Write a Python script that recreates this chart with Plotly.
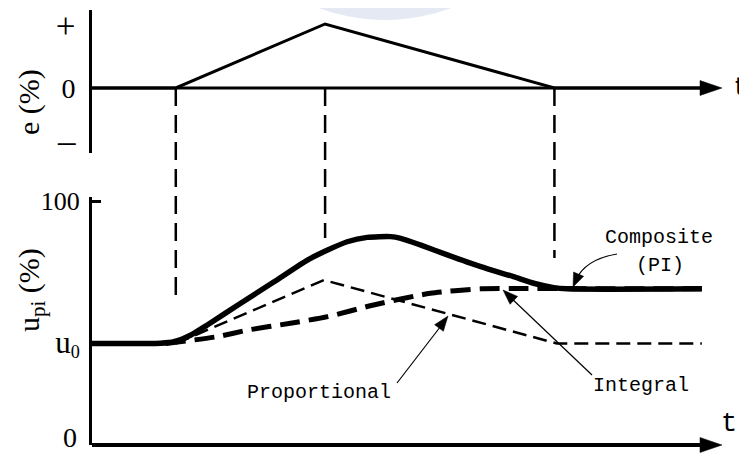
import math
import plotly.graph_objects as go

# ---------------- data ----------------
# error signal e(t)
t_e = [0.0, 1.33, 3.70, 7.34, 9.66]
e_val = [0.0, 0.0, 1.067, 0.0, 0.0]

# composite (PI) controller output
t_comp = [0.0, 0.78, 1.09, 1.30, 1.57, 1.83, 2.36, 2.89, 3.42, 3.74, 4.05, 4.37,
          4.74, 4.90, 5.21, 5.64, 6.17, 6.69, 7.01, 7.33, 7.54, 9.68]
u_comp = [41.6, 41.6, 41.7, 42.3, 45.1, 49.2, 58.1, 66.9, 75.8, 79.9, 83.3, 85.1,
          85.4, 84.7, 82.0, 77.9, 73.1, 69.0, 66.3, 64.5, 64.0, 64.0]

# proportional part
t_prop = [1.33, 3.68, 7.38, 9.68]
u_prop = [41.6, 67.6, 41.6, 41.6]

# integral part
t_int = [1.17, 1.99, 2.47, 3.15, 3.74, 4.47, 5.37, 6.17, 6.69, 9.68]
u_int = [41.6, 44.4, 47.1, 49.9, 52.6, 57.4, 62.2, 64.0, 64.1, 64.0]

# event times (start of error, peak, end of error)
t_events = [1.33, 3.70, 7.34]

# tick labels
e_tickvals = [1.0, 0.0, -0.92]
e_ticktext = ["<span style='font-size:35px'>+</span>", "0",
              "<span style='font-size:35px'>\u2013</span>"]
u_tickvals = [100, 41.6]
u_ticktext = ["100", "<span style='font-size:31px'>u</span><sub>0</sub>"]
u_zero_label = "0"

# ---------------- layout geometry ----------------
# the page body adds an 8px margin, so the figure is sized to fill the rest
OFF = 8
W, H = 747 - OFF, 456 - OFF
REF_LEFT, REF_RIGHT, REF_TOP, REF_BOT = 92, 722, 10, 445   # plot area in page px
ML = REF_LEFT - OFF
MT = REF_TOP - OFF
MR = 747 - REF_RIGHT
MB = 456 - REF_BOT
PW = REF_RIGHT - REF_LEFT
PH = REF_BOT - REF_TOP
X_MAX = 10.0
TOP_Y0_PX, TOP_Y1_PX = 153, 10
BOT_Y0_PX, BOT_Y1_PX = 445, 197
E_ZERO_PX = 88
E_SCALE = 60.0           # px per unit of e
U_SCALE = 2.44           # px per % of u

top_dom = [(REF_BOT - TOP_Y0_PX) / PH, (REF_BOT - TOP_Y1_PX) / PH]
bot_dom = [(REF_BOT - BOT_Y0_PX) / PH, (REF_BOT - BOT_Y1_PX) / PH]
e_range = [-(TOP_Y0_PX - E_ZERO_PX) / E_SCALE, (E_ZERO_PX - TOP_Y1_PX) / E_SCALE]
u_range = [0, (BOT_Y0_PX - BOT_Y1_PX) / U_SCALE]


def px_x(px):
    return (px - REF_LEFT) / PW * X_MAX


def px_u(py):
    return (BOT_Y0_PX - py) / U_SCALE


def pap(px, py):
    return (px - REF_LEFT) / PW, (REF_BOT - py) / PH


SERIF = "Liberation Serif"
MONO = "Liberation Mono"
SANS = "DejaVu Sans"

fig = go.Figure()

fig.add_trace(go.Scatter(x=t_e, y=e_val, mode="lines", yaxis="y",
                         line=dict(color="black", width=3), hoverinfo="skip"))
fig.add_trace(go.Scatter(x=t_int, y=u_int, mode="lines", yaxis="y2",
                         line=dict(color="black", width=5, dash="20px,9px",
                                   shape="spline", smoothing=0.6), hoverinfo="skip"))
fig.add_trace(go.Scatter(x=t_prop, y=u_prop, mode="lines", yaxis="y2",
                         line=dict(color="black", width=2.5, dash="14px,7px"),
                         hoverinfo="skip"))
fig.add_trace(go.Scatter(x=t_comp, y=u_comp, mode="lines", yaxis="y2",
                         line=dict(color="black", width=5.5, shape="spline",
                                   smoothing=0.6), hoverinfo="skip"))

shapes = []

# faint watermark disc peeking in at the top of the page
wx0, wy0 = pap(195, 20)
wx1, wy1 = pap(575, -360)
shapes.append(dict(type="circle", xref="paper", yref="paper", x0=wx0, x1=wx1,
                   y0=wy0, y1=wy1, fillcolor="#e4e9f4", line=dict(width=0),
                   layer="below"))

# dashed guide lines through both panels
guide_bottom_px = [300, 238, 258]
for te, yb in zip(t_events, guide_bottom_px):
    shapes.append(dict(type="line", xref="x", yref="paper", x0=te, x1=te,
                       y0=(REF_BOT - E_ZERO_PX) / PH, y1=(REF_BOT - yb) / PH,
                       line=dict(color="black", width=2.5, dash="18px,9px"),
                       layer="above"))

# time axes
ARROW_BASE = px_x(702)
shapes.append(dict(type="line", xref="x", yref="y", x0=0, x1=ARROW_BASE, y0=0, y1=0,
                   line=dict(color="black", width=3)))
shapes.append(dict(type="line", xref="x", yref="paper", x0=0, x1=ARROW_BASE, y0=0, y1=0,
                   line=dict(color="black", width=4)))


def head(tip_px, from_px, length, halfw, xref, yref, yfun):
    dx = tip_px[0] - from_px[0]
    dy = tip_px[1] - from_px[1]
    n = math.hypot(dx, dy)
    ux, uy = dx / n, dy / n
    nx, ny = -uy, ux
    p1 = (-length * ux + halfw * nx, -length * uy + halfw * ny)
    p2 = (-length * ux - halfw * nx, -length * uy - halfw * ny)
    # pixel-sizemode: y offsets are positive upwards
    path = "M0,0 L{:.2f},{:.2f} L{:.2f},{:.2f} Z".format(p1[0], -p1[1], p2[0], -p2[1])
    return dict(type="path", xref=xref, yref=yref, xsizemode="pixel",
                ysizemode="pixel", xanchor=px_x(tip_px[0]), yanchor=yfun(tip_px[1]),
                path=path, fillcolor="black", line=dict(color="black", width=0.5),
                layer="above")


# axis arrowheads
shapes.append(head((722, 88), (700, 88), 22, 7.5, "x", "y",
                   lambda py: (E_ZERO_PX - py) / E_SCALE))
shapes.append(head((722, 445), (700, 445), 22, 7.5, "x", "paper",
                   lambda py: (REF_BOT - py) / PH))


def curve(p0, c, p1):
    return "M{:.4f},{:.4f} Q{:.4f},{:.4f} {:.4f},{:.4f}".format(
        px_x(p0[0]), px_u(p0[1]), px_x(c[0]), px_u(c[1]), px_x(p1[0]), px_u(p1[1]))


# Composite callout
shapes.append(dict(type="path", xref="x", yref="y2",
                   path=curve((617, 254), (585, 259.5), (576, 280)),
                   line=dict(color="black", width=1.2)))
shapes.append(head((573, 287), (585, 259.5), 14, 5.5, "x", "y2", px_u))
# Integral callout
shapes.append(dict(type="line", xref="x", yref="y2", x0=px_x(592), y0=px_u(375),
                   x1=px_x(509), y1=px_u(296), line=dict(color="black", width=1.2)))
shapes.append(head((503, 290), (592, 375), 15, 5.5, "x", "y2", px_u))
# Proportional callout
shapes.append(dict(type="path", xref="x", yref="y2",
                   path=curve((397, 383), (417.5, 356.5), (444, 322)),
                   line=dict(color="black", width=1.2)))
shapes.append(head((448, 316), (417.5, 356.5), 15, 5.5, "x", "y2", px_u))

annotations = []
mono = dict(family=MONO, size=20, color="black")


def label(text, px, py, font, angle=0):
    x, y = pap(px, py)
    annotations.append(dict(text=text, x=x, y=y, xref="paper", yref="paper",
                            showarrow=False, font=font, textangle=angle,
                            xanchor="center", yanchor="middle"))


label("Composite", 658.5, 237, mono)
label("(PI)", 660, 265, mono)
label("Integral", 641, 385, mono)
label("Proportional", 319, 392, mono)
label("t", 740, 87, dict(family=SANS, size=24, color="black"))
label("t", 729, 424, dict(family=MONO, size=27, color="black"))
label(u_zero_label, 70, 437, dict(family=SERIF, size=28, color="black"))
serif_t = dict(family=SERIF, size=30, color="black")
label("e (%)", 29, 102, serif_t, -90)
label("u<sub>pi</sub> (%)", 31, 290, serif_t, -90)

fig.update_layout(
    width=W, height=H, template="none",
    margin=dict(l=ML, r=MR, t=MT, b=MB, pad=0),
    paper_bgcolor="white", plot_bgcolor="rgba(0,0,0,0)",
    showlegend=False,
    xaxis=dict(domain=[0, 1], range=[0, X_MAX], anchor="y2", showline=False,
               showticklabels=False, ticks="", showgrid=False, zeroline=False,
               automargin=False),
    yaxis=dict(domain=top_dom, range=e_range, anchor="x", showline=True,
               linecolor="black", linewidth=3, ticks="", tickvals=e_tickvals,
               ticktext=e_ticktext, showgrid=False, zeroline=False,
               tickfont=dict(family=SERIF, size=28, color="black"),
               ticklabelstandoff=8, automargin=False, ticklabeloverflow="allow"),
    yaxis2=dict(domain=bot_dom, range=u_range, anchor="x", showline=True,
                linecolor="black", linewidth=3, ticks="inside", ticklen=9,
                tickwidth=3, tickcolor="black", tickvals=u_tickvals,
                ticktext=u_ticktext, showgrid=False, zeroline=False,
                tickfont=dict(family=SERIF, size=26, color="black"),
                ticklabelstandoff=4, automargin=False, ticklabeloverflow="allow"),
    shapes=shapes, annotations=annotations,
)

fig.write_html("out.html")
